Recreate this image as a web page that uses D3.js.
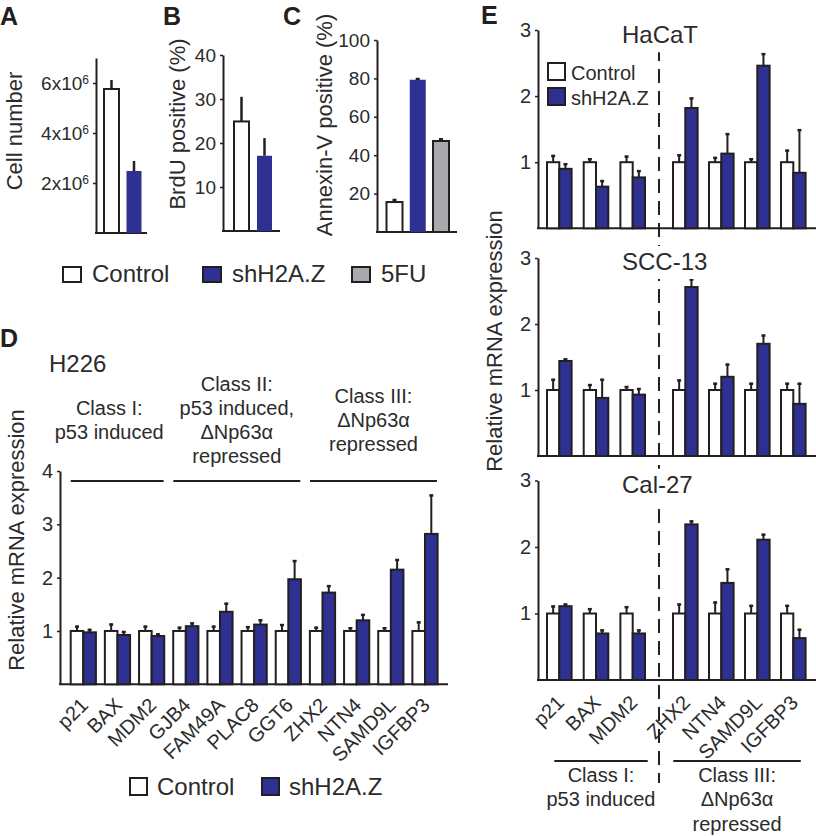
<!DOCTYPE html>
<html><head><meta charset="utf-8">
<script src="https://cdn.jsdelivr.net/npm/d3@7"></script>
<style>body{margin:0;background:#fff}</style>
</head><body>
<script>
// ---------------- DATA ----------------
const groupsABC = ["Control", "shH2A.Z"];
const cellNumber = [5.76e6, 2.48e6];
const cellNumberErr = [0.36e6, 0.40e6];
const ticksA = [2e6, 4e6, 6e6];

const brdu = [24.9, 17.1];
const brduErr = [5.6, 4.0];
const ticksB = [10, 20, 30, 40];

const groupsC = ["Control", "shH2A.Z", "5FU"];
const annexin = [15.6, 79.3, 47.4];
const annexinErr = [1.6, 0.9, 1.4];
const ticksC = [20, 40, 60, 80, 100];

const legendABC = ["Control", "shH2A.Z", "5FU"];
const legendDE = ["Control", "shH2A.Z"];

const genesD = ["p21","BAX","MDM2","GJB4","FAM49A","PLAC8","GGT6","ZHX2","NTN4","SAMD9L","IGFBP3"];
const h226Control = [1,1,1,1,1,1,1,1,1,1,1];
const h226ControlErr = [0.10,0.14,0.10,0.08,0.10,0.09,0.13,0.08,0.07,0.07,0.18];
const h226Sh = [0.975,0.925,0.905,1.09,1.36,1.12,1.97,1.72,1.20,2.15,2.82];
const h226ShErr = [0.065,0.075,0.05,0.07,0.17,0.10,0.36,0.14,0.12,0.20,0.74];
const ticksD = [1, 2, 3, 4];
const classGenesD = [["p21","BAX","MDM2"],["GJB4","FAM49A","PLAC8","GGT6"],["ZHX2","NTN4","SAMD9L","IGFBP3"]];
const classLabelsD = [["Class I:","p53 induced"],["Class II:","p53 induced,","\u0394Np63\u03b1","repressed"],["Class III:","\u0394Np63\u03b1","repressed"]];

const genesEI = ["p21","BAX","MDM2"];
const genesEIII = ["ZHX2","NTN4","SAMD9L","IGFBP3"];
const classLabelsE = [["Class I:","p53 induced"],["Class III:","\u0394Np63\u03b1","repressed"]];
const cellLines = ["HaCaT","SCC-13","Cal-27"];
const ticksE = [1, 2, 3];
const eControl = [1,1,1,1,1,1,1];
const hacatCtrlErr = [0.11,0.06,0.10,0.12,0.08,0.06,0.19];
const hacatSh = [0.90,0.63,0.77,1.82,1.13,2.46,0.84];
const hacatShErr = [0.085,0.10,0.11,0.16,0.31,0.19,0.66];
const scc13CtrlErr = [0.17,0.09,0.06,0.16,0.11,0.11,0.11];
const scc13Sh = [1.44,0.88,0.93,2.56,1.20,1.70,0.79];
const scc13ShErr = [0.04,0.29,0.10,0.13,0.20,0.14,0.32];
const cal27CtrlErr = [0.12,0.08,0.11,0.15,0.18,0.13,0.13];
const cal27Sh = [1.11,0.70,0.70,2.34,1.46,2.11,0.63];
const cal27ShErr = [0.04,0.06,0.06,0.06,0.22,0.09,0.14];

// ---------------- STYLE ----------------
const FONT = "'Liberation Sans', Arial, Helvetica, sans-serif";
const INK = "#231f20";
const TXT = "#2b2b2b";
const BLUE = "#2e3192";
const GRAY = "#a7a9ac";

const svg = d3.select("body").append("svg")
  .attr("width", 816).attr("height", 836)
  .style("font-family", FONT);

function txt(x, y, s, size, opts = {}) {
  const t = svg.append("text").attr("x", x).attr("y", y).text(s)
    .attr("fill", opts.fill || TXT).style("font-size", size + "px")
    .attr("text-anchor", opts.anchor || "start");
  if (opts.bold) t.style("font-weight", "bold");
  if (opts.rotate) t.attr("transform", `rotate(${opts.rotate},${x},${y})`);
  return t;
}

function yAxis(scale, ticks, x, fontSize, fmt) {
  const ax = d3.axisLeft(scale).tickValues(ticks).tickSize(3).tickSizeOuter(0).tickPadding(4)
    .tickFormat(fmt || d3.format("d"));
  const a = svg.append("g").attr("transform", `translate(${x},0)`).call(ax)
    .attr("font-family", FONT).attr("font-size", fontSize);
  a.select(".domain").attr("stroke", INK).attr("stroke-width", 2);
  a.selectAll(".tick line").attr("stroke", INK).attr("stroke-width", 1.5);
  a.selectAll(".tick text").attr("fill", TXT);
  return a;
}

function hline(x1, x2, y, w = 2) {
  svg.append("line").attr("x1", x1).attr("x2", x2).attr("y1", y).attr("y2", y)
    .attr("stroke", INK).attr("stroke-width", w);
}

function errBar(x, yBar, yTop, cap, w) {
  svg.append("line").attr("x1", x).attr("x2", x).attr("y1", yBar).attr("y2", yTop)
    .attr("stroke", INK).attr("stroke-width", w);
  if (cap > 0) {
    svg.append("line").attr("x1", x - cap / 2).attr("x2", x + cap / 2).attr("y1", yTop + 1).attr("y2", yTop + 1)
      .attr("stroke", INK).attr("stroke-width", 2.5);
  }
}

function bar(x, w, y0, y1, fill, stroke) {
  svg.append("rect").attr("x", x).attr("y", y1).attr("width", w).attr("height", y0 - y1)
    .attr("fill", fill).attr("stroke", stroke ? INK : "none").attr("stroke-width", 2);
}

// ---------------- PANEL LETTERS ----------------
txt(0, 25, "A", 25, {bold: true, fill: INK});
txt(163, 25, "B", 25, {bold: true, fill: INK});
txt(283, 25, "C", 25, {bold: true, fill: INK});
txt(0, 347, "D", 25, {bold: true, fill: INK});
txt(481, 24, "E", 25, {bold: true, fill: INK});

// ---------------- PANEL A ----------------
{
  const y = d3.scaleLinear().domain([0, 7e6]).range([233, 58]);
  const x = d3.scalePoint().domain(groupsABC).range([111.5, 134]);
  const a = yAxis(y, ticksA, 96, 19, () => "");
  a.selectAll(".tick text").each(function (d) {
    const t = d3.select(this);
    t.append("tspan").text((d / 1e6) + "x10");
    t.append("tspan").attr("dy", "-0.5em").style("font-size", "12px").text("6");
  });
  hline(95, 147, y(0));
  groupsABC.forEach((g, i) => {
    bar(x(g) - 7.5, 15, y(0), y(cellNumber[i]), i === 0 ? "#fff" : BLUE, i === 0);
    errBar(x(g), y(cellNumber[i]), y(cellNumber[i] + cellNumberErr[i]), 0, 2.5);
  });
  txt(22, 131, "Cell number", 22, {anchor: "middle", rotate: -90});
}

// ---------------- PANEL B ----------------
{
  const y = d3.scaleLinear().domain([0, 40]).range([231, 55]);
  const x = d3.scalePoint().domain(groupsABC).range([241.5, 264.5]);
  yAxis(y, ticksB, 223, 19);
  hline(222, 280, y(0));
  groupsABC.forEach((g, i) => {
    bar(x(g) - 7.5, 15, y(0), y(brdu[i]), i === 0 ? "#fff" : BLUE, i === 0);
    errBar(x(g), y(brdu[i]), y(brdu[i] + brduErr[i]), 0, 2.5);
  });
  txt(185, 124, "BrdU positive (%)", 22, {anchor: "middle", rotate: -90});
}

// ---------------- PANEL C ----------------
{
  const y = d3.scaleLinear().domain([0, 100]).range([232, 40]);
  const x = d3.scalePoint().domain(groupsC).range([394.5, 441]);
  yAxis(y, ticksC, 377, 19);
  hline(376, 457, y(0));
  const fills = ["#fff", BLUE, GRAY];
  groupsC.forEach((g, i) => {
    bar(x(g) - 8, 16, y(0), y(annexin[i]), fills[i], i !== 1);
    errBar(x(g), y(annexin[i]), y(annexin[i] + annexinErr[i]), 4, 2.5);
  });
  txt(332, 125, "Annexin-V positive (%)", 22, {anchor: "middle", rotate: -90});
}

// ---------------- LEGEND A-C ----------------
{
  const xs = [63, 203, 352];
  const fills = ["#fff", BLUE, GRAY];
  legendABC.forEach((l, i) => {
    svg.append("rect").attr("x", xs[i]).attr("y", 267).attr("width", 18).attr("height", 15)
      .attr("fill", fills[i]).attr("stroke", INK).attr("stroke-width", 2);
    txt(xs[i] + 29, 282, l, 24);
  });
}

// ---------------- PANEL D ----------------
{
  const y = d3.scaleLinear().domain([0, 4]).range([684.3, 471]);
  const x = d3.scalePoint().domain(genesD).range([83.3, 425]);
  const bw = 12.6;
  yAxis(y, ticksD, 60, 20);
  hline(59, 448, y(0));
  genesD.forEach((g, i) => {
    const cx = x(g);
    bar(cx - bw, bw, y(0), y(h226Control[i]), "#fff", true);
    bar(cx, bw, y(0), y(h226Sh[i]), BLUE, true);
    errBar(cx - bw / 2, y(h226Control[i]), y(h226Control[i] + h226ControlErr[i]), 4, 2);
    errBar(cx + bw / 2, y(h226Sh[i]), y(h226Sh[i] + h226ShErr[i]), 4, 2);
    svg.append("text").attr("transform", `translate(${cx + 6},${y(0) + 22}) rotate(-45)`)
      .attr("text-anchor", "end").style("font-size", "20px").attr("fill", TXT).text(g);
  });
  const dx = [-8, 0, 0];
  classGenesD.forEach((gs, k) => {
    const x1 = x(gs[0]) - 12.5, x2 = x(gs[gs.length - 1]) + 12;
    hline(x1, x2, 481, 2);
    const lines = classLabelsD[k];
    const cx = (x1 + x2) / 2 + dx[k];
    lines.forEach((s, j) => {
      txt(cx, 427 - (lines.length - 1) * 12 + j * 24, s, 20, {anchor: "middle"});
    });
  });
  txt(49, 372, "H226", 24);
  txt(24, 540, "Relative mRNA expression", 22, {anchor: "middle", rotate: -90});
  // legend
  const xs = [130, 262];
  legendDE.forEach((l, i) => {
    svg.append("rect").attr("x", xs[i]).attr("y", 778).attr("width", 17).attr("height", 17)
      .attr("fill", i === 0 ? "#fff" : BLUE).attr("stroke", INK).attr("stroke-width", 2);
    txt(xs[i] + 27, 795, l, 24);
  });
}

// ---------------- PANEL E ----------------
{
  const xI = d3.scalePoint().domain(genesEI).range([559.3, 632.7]);
  const xIII = d3.scalePoint().domain(genesEIII).range([685.3, 793.3]);
  const bw = 12.3;
  const genesE = genesEI.concat(genesEIII);
  const xE = g => genesEI.includes(g) ? xI(g) : xIII(g);
  const dashX = ((xI(genesEI[2]) + bw) + (xIII(genesEIII[0]) - bw)) / 2;
  const baselines = [228.3, 456, 680];
  const tops = [30, 258, 480.5];
  const shVals = [hacatSh, scc13Sh, cal27Sh];
  const shErrs = [hacatShErr, scc13ShErr, cal27ShErr];
  const ctrlErrs = [hacatCtrlErr, scc13CtrlErr, cal27CtrlErr];
  const titleY = [43.3, 270, 492.7];

  // dashed separator
  svg.append("line").attr("x1", dashX).attr("x2", dashX).attr("y1", 47).attr("y2", 783)
    .attr("stroke", INK).attr("stroke-width", 2).attr("stroke-dasharray", "14,8");

  cellLines.forEach((name, k) => {
    const y = d3.scaleLinear().domain([0, 3]).range([baselines[k], tops[k]]);
    yAxis(y, ticksE, 538, 20);
    hline(537, 816, y(0));
    genesE.forEach((g, i) => {
      const cx = xE(g);
      bar(cx - bw, bw, y(0), y(eControl[i]), "#fff", true);
      bar(cx, bw, y(0), y(shVals[k][i]), BLUE, true);
      errBar(cx - bw / 2, y(eControl[i]), y(eControl[i] + ctrlErrs[k][i]), 4, 2);
      errBar(cx + bw / 2, y(shVals[k][i]), y(shVals[k][i] + shErrs[k][i]), 4, 2);
    });
    const t = txt(622, titleY[k], name, 24);
    const bb = t.node().getBBox();
    svg.insert("rect", () => t.node()).attr("x", bb.x - 2).attr("y", bb.y - 2)
      .attr("width", bb.width + 4).attr("height", bb.height + 6).attr("fill", "#fff");
  });

  // x labels under Cal-27
  genesE.forEach(g => {
    svg.append("text").attr("transform", `translate(${xE(g) + 6},${baselines[2] + 24}) rotate(-45)`)
      .attr("text-anchor", "end").style("font-size", "20px").attr("fill", TXT).text(g);
  });

  // class labels
  const spans = [[xI(genesEI[0]) - 5, xI(genesEI[2]) + 15], [xIII(genesEIII[0]) - 12, xIII(genesEIII[3]) + 7.5]];
  spans.forEach((sp, k) => {
    hline(sp[0], sp[1], 761, 2);
    const cx = (sp[0] + sp[1]) / 2;
    classLabelsE[k].forEach((s, j) => txt(cx, 781.7 + j * 24.5, s, 20, {anchor: "middle"}));
  });

  // legend
  legendDE.forEach((l, i) => {
    svg.append("rect").attr("x", 548).attr("y", 63 + i * 25).attr("width", 17).attr("height", 17)
      .attr("fill", i === 0 ? "#fff" : BLUE).attr("stroke", INK).attr("stroke-width", 2);
    txt(571, 80 + i * 25, l, 20);
  });

  txt(502, 341, "Relative mRNA expression", 22, {anchor: "middle", rotate: -90});
}
</script>
</body></html>
